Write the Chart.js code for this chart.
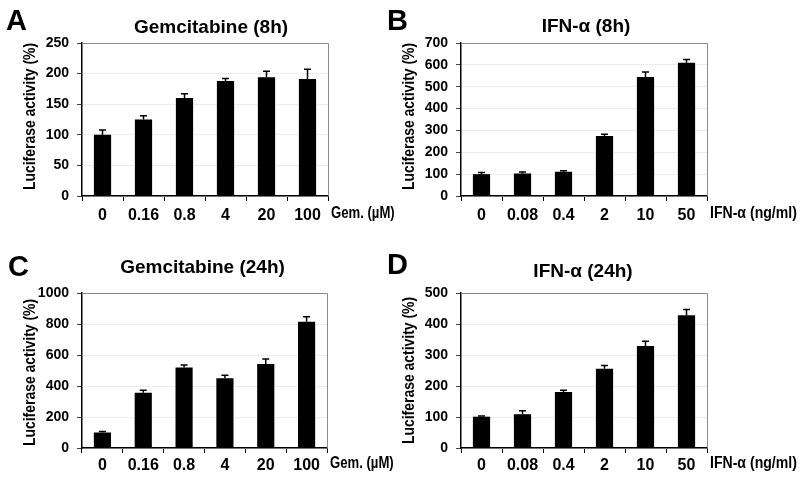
<!DOCTYPE html>
<html>
<head>
<meta charset="utf-8">
<script src="https://cdn.jsdelivr.net/npm/chart.js@4.4.1/dist/chart.umd.min.js"></script>
<style>
  html, body { margin: 0; padding: 0; background: #fff; }
  body { width: 800px; height: 481px; position: relative; overflow: hidden; }
  canvas { position: absolute; }
</style>
</head>
<body>
<canvas id="panelA" width="420" height="240" style="left:0;top:0"></canvas>
<canvas id="panelB" width="420" height="240" style="left:380px;top:0"></canvas>
<canvas id="panelC" width="420" height="241" style="left:0;top:240px"></canvas>
<canvas id="panelD" width="420" height="241" style="left:380px;top:240px"></canvas>
<script>
// Doses (x categories)
const gemDoses = ["0", "0.16", "0.8", "4", "20", "100"];
const ifnDoses = ["0", "0.08", "0.4", "2", "10", "50"];

// Luciferase activity (%) and upper error (SD)
const gem8h = [100, 125, 160, 188, 194, 191];
const gem8hErr = [8, 6, 7, 4, 10, 16];
const ifn8h = [100, 103, 111, 274, 545, 610];
const ifn8hErr = [7, 7, 4, 9, 22, 14];
const gem24h = [100, 357, 520, 450, 542, 814];
const gem24hErr = [6, 15, 15, 20, 33, 32];
const ifn24h = [101, 109, 181, 256, 329, 428];
const ifn24hErr = [2, 11, 5, 10, 15, 19];

// Y axis tick settings
const gem8hTicks = { max: 250, step: 50 };
const ifn8hTicks = { max: 700, step: 100 };
const gem24hTicks = { max: 1000, step: 200 };
const ifn24hTicks = { max: 500, step: 100 };

document.addEventListener("DOMContentLoaded", function () {

    const SANS = '"Liberation Sans", Arial, sans-serif';

    /*** ===========================
     *  PLUGIN: box, error bars, labels
     *  =========================== ***/
    const panelDecor = {
        id: "panelDecor",
        beforeDatasetsDraw(chart) {
            const a = chart.chartArea;
            const ctx = chart.ctx;
            ctx.save();
            ctx.strokeStyle = "#8a8a8a";
            ctx.lineWidth = 1;
            ctx.beginPath();
            ctx.moveTo(a.left, a.top + 0.5);
            ctx.lineTo(a.right + 0.5, a.top + 0.5);
            ctx.lineTo(a.right + 0.5, a.bottom);
            ctx.stroke();
            ctx.restore();
        },
        afterDatasetsDraw(chart, args, o) {
            const ctx = chart.ctx;
            const meta = chart.getDatasetMeta(0);
            const yScale = chart.scales.y;
            const values = chart.data.datasets[0].data;
            ctx.save();
            ctx.strokeStyle = "#000";
            ctx.lineWidth = 1.5;
            meta.data.forEach(function (bar, i) {
                const top = yScale.getPixelForValue(values[i] + o.errors[i]);
                ctx.beginPath();
                ctx.moveTo(bar.x, bar.y);
                ctx.lineTo(bar.x, top);
                ctx.moveTo(bar.x - 3.5, top);
                ctx.lineTo(bar.x + 3.5, top);
                ctx.stroke();
            });
            ctx.restore();
        },
        afterDraw(chart, args, o) {
            const a = chart.chartArea;
            const ctx = chart.ctx;
            ctx.save();
            ctx.fillStyle = "#000";
            ctx.textBaseline = "alphabetic";

            // panel letter
            ctx.font = "bold 29px " + SANS;
            ctx.textAlign = "left";
            ctx.fillText(o.letter, o.letterX, o.letterY);

            // panel title
            ctx.font = "bold 19px " + SANS;
            ctx.textAlign = "center";
            ctx.fillText(o.title, (a.left + a.right) / 2 + o.titleDx, o.titleY);

            // x unit label next to the last tick (squeezed like a narrow face)
            ctx.save();
            ctx.font = "bold 16px " + SANS;
            ctx.textAlign = "left";
            ctx.textBaseline = "top";
            ctx.translate(a.right + 3, a.bottom + 5 + o.tickPad);
            ctx.scale(o.unitSqueeze, 1);
            ctx.fillText(o.unit, 0, 0);
            ctx.restore();

            // y axis title, narrow bold look
            ctx.translate(a.left - 52, (a.top + a.bottom) / 2 + o.yTitleDy);
            ctx.rotate(-Math.PI / 2);
            ctx.scale(0.82, 1);
            ctx.font = "bold 17px " + SANS;
            ctx.textAlign = "center";
            ctx.textBaseline = "middle";
            ctx.fillText("Luciferase activity (%)", 0, 0);
            ctx.restore();
        }
    };

    /*** ===========================
     *  PANEL BUILDER
     *  =========================== ***/
    function makePanel(id, labels, values, errors, ticks, p) {
        const canvas = document.getElementById(id);
        return new Chart(canvas.getContext("2d"), {
            type: "bar",
            data: {
                labels: labels,
                datasets: [{
                    data: values,
                    backgroundColor: "#000",
                    borderWidth: 0,
                    barPercentage: 0.42,
                    categoryPercentage: 1
                }]
            },
            options: {
                responsive: false,
                animation: false,
                layout: {
                    padding: { left: 0, top: p.top, right: canvas.width - p.right, bottom: 0 }
                },
                plugins: {
                    legend: { display: false },
                    tooltip: { enabled: false },
                    panelDecor: {
                        letter: p.letter, letterX: p.letterX, letterY: p.letterY,
                        title: p.title, titleDx: p.titleDx, titleY: p.titleY,
                        unit: p.unit, unitSqueeze: p.unitSqueeze,
                        tickPad: p.tickPad, yTitleDy: p.yTitleDy,
                        errors: errors
                    }
                },
                scales: {
                    x: {
                        grid: {
                            drawOnChartArea: false,
                            tickLength: 5,
                            tickColor: "#000",
                            offset: true
                        },
                        border: { color: "#000", width: 1.5 },
                        ticks: {
                            color: "#000",
                            padding: p.tickPad,
                            autoSkip: false,
                            maxRotation: 0,
                            minRotation: 0,
                            font: { family: SANS, size: 16, weight: "bold" }
                        },
                        afterFit: function (scale) { scale.height = canvas.height - p.bottom; }
                    },
                    y: {
                        min: 0,
                        max: ticks.max,
                        grid: {
                            color: "#ececec",
                            tickColor: "#444",
                            tickLength: 5
                        },
                        border: { color: "#000", width: 1.5 },
                        ticks: {
                            stepSize: ticks.step,
                            color: "#000",
                            padding: 8,
                            callback: function (value) { return String(value); },
                            font: { family: SANS, size: 14, weight: "bold" }
                        },
                        afterFit: function (scale) { scale.width = p.left; }
                    }
                }
            },
            plugins: [panelDecor]
        });
    }

    makePanel("panelA", gemDoses, gem8h, gem8hErr, gem8hTicks, {
        left: 82, right: 328, top: 43, bottom: 196, tickPad: 5,
        letter: "A", letterX: 6, letterY: 30,
        title: "Gemcitabine (8h)", titleDx: 6, titleY: 33, yTitleDy: -3,
        unit: "Gem. (\u00b5M)", unitSqueeze: 0.82
    });

    makePanel("panelB", ifnDoses, ifn8h, ifn8hErr, ifn8hTicks, {
        left: 81, right: 327, top: 43, bottom: 196, tickPad: 5,
        letter: "B", letterX: 7, letterY: 30,
        title: "IFN-\u03b1 (8h)", titleDx: 2, titleY: 32, yTitleDy: -3,
        unit: "IFN-\u03b1 (ng/ml)", unitSqueeze: 0.88
    });

    makePanel("panelC", gemDoses, gem24h, gem24hErr, gem24hTicks, {
        left: 82, right: 327, top: 53, bottom: 208, tickPad: 3,
        letter: "C", letterX: 8, letterY: 36,
        title: "Gemcitabine (24h)", titleDx: -2, titleY: 33, yTitleDy: 2,
        unit: "Gem. (\u00b5M)", unitSqueeze: 0.82
    });

    makePanel("panelD", ifnDoses, ifn24h, ifn24hErr, ifn24hTicks, {
        left: 81, right: 327, top: 53, bottom: 208, tickPad: 3,
        letter: "D", letterX: 7, letterY: 34,
        title: "IFN-\u03b1 (24h)", titleDx: -1, titleY: 37, yTitleDy: 0,
        unit: "IFN-\u03b1 (ng/ml)", unitSqueeze: 0.88
    });

});
</script>
</body>
</html>
